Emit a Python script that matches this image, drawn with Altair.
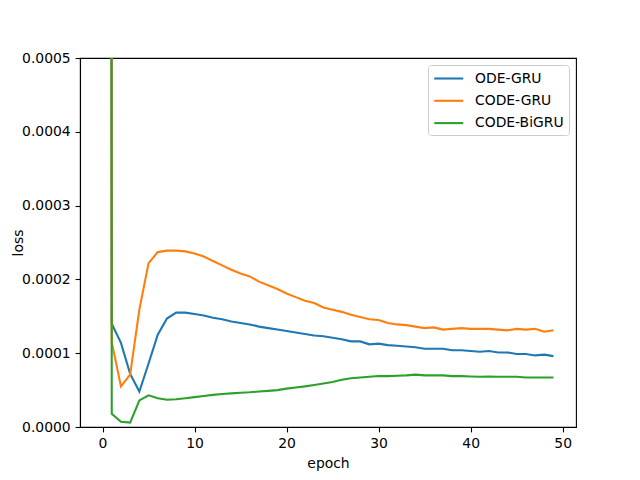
import altair as alt
import pandas as pd

# values in units of 1e-4
epochs = list(range(50))
ode_gru = [200.0, 1.40, 1.14, 0.72, 0.48, 0.86, 1.25, 1.47, 1.55, 1.55,
           1.53, 1.51, 1.48, 1.46, 1.43, 1.41, 1.39, 1.36, 1.34, 1.32,
           1.30, 1.28, 1.26, 1.24, 1.23, 1.21, 1.19, 1.16, 1.16, 1.12,
           1.13, 1.11, 1.10, 1.09, 1.08, 1.06, 1.06, 1.06, 1.04, 1.04,
           1.03, 1.02, 1.03, 1.01, 1.01, 0.99, 0.99, 0.97, 0.98, 0.96]
code_gru = [200.0, 1.15, 0.55, 0.71, 1.59, 2.22, 2.37, 2.39, 2.39, 2.38,
            2.35, 2.31, 2.25, 2.19, 2.13, 2.08, 2.04, 1.97, 1.92, 1.87,
            1.81, 1.76, 1.71, 1.68, 1.62, 1.59, 1.56, 1.52, 1.49, 1.46,
            1.45, 1.41, 1.39, 1.38, 1.36, 1.34, 1.35, 1.32, 1.33, 1.34,
            1.33, 1.33, 1.33, 1.32, 1.31, 1.33, 1.32, 1.33, 1.29, 1.31]
code_bigru = [200.0, 0.18, 0.07, 0.06, 0.36, 0.43, 0.39, 0.37, 0.375, 0.39,
              0.405, 0.42, 0.435, 0.447, 0.456, 0.465, 0.47, 0.48, 0.49, 0.50,
              0.52, 0.535, 0.55, 0.57, 0.59, 0.61, 0.64, 0.66, 0.67, 0.68,
              0.69, 0.69, 0.695, 0.70, 0.71, 0.70, 0.70, 0.70, 0.69, 0.69,
              0.685, 0.68, 0.685, 0.68, 0.68, 0.68, 0.67, 0.67, 0.67, 0.67]

series_names = ["ODE-GRU", "CODE-GRU", "CODE-BiGRU"]
series_colors = ["#1f77b4", "#ff7f0e", "#2ca02c"]
x_ticks = [0, 10, 20, 30, 40, 50]
y_ticks = [0.0, 0.0001, 0.0002, 0.0003, 0.0004, 0.0005]

UNIT = 1e-4
rows = []
for name, vals in zip(series_names, [ode_gru, code_gru, code_bigru]):
    for e, v in zip(epochs, vals):
        rows.append({"epoch": e, "loss": v * UNIT, "series": name})
df = pd.DataFrame(rows)

color = alt.Color(
    "series:N",
    scale=alt.Scale(domain=series_names, range=series_colors),
    legend=alt.Legend(
        title=None, orient="top-right", offset=7,
        symbolType="M-1,0H3", symbolSize=210, symbolStrokeWidth=2.1,
        labelFontSize=13.9, labelColor="black", labelOffset=25,
        rowPadding=6.3, padding=5,
        fillColor="rgba(255,255,255,0.8)", strokeColor="#cccccc",
        cornerRadius=3,
    ),
)

x = alt.X("epoch:Q", scale=alt.Scale(domain=[-2.45, 51.45], nice=False, zero=False),
          axis=alt.Axis(values=x_ticks, format="d", title="epoch"))
y = alt.Y("loss:Q", scale=alt.Scale(domain=[0, 0.0005], nice=False),
          axis=alt.Axis(values=y_ticks, format=".4f", title="loss", titlePadding=-4))

layers = []
for name in series_names:
    layers.append(
        alt.Chart(df).transform_filter(alt.datum.series == name)
        .mark_line(clip=True, strokeWidth=2.1)
        .encode(x=x, y=y, color=color)
    )

chart = alt.layer(*layers).properties(
    width=496, height=369,
    padding={"left": 72, "top": 50, "right": 56, "bottom": 53},
    autosize=alt.AutoSizeParams(type="none"),
).configure(
    font="DejaVu Sans",
).configure_view(
    stroke="black", strokeWidth=1.1,
).configure_axis(
    grid=False, domainColor="black", domainWidth=1.1,
    tickColor="black", tickWidth=1.1, tickSize=4.9,
    labelPadding=4.9, labelFontSize=13.9, labelColor="black",
    titleFontSize=13.9, titleFontWeight="normal", titleColor="black",
    titlePadding=6,
)

chart.save("out.html", embed_options={"renderer": "svg", "actions": False})
